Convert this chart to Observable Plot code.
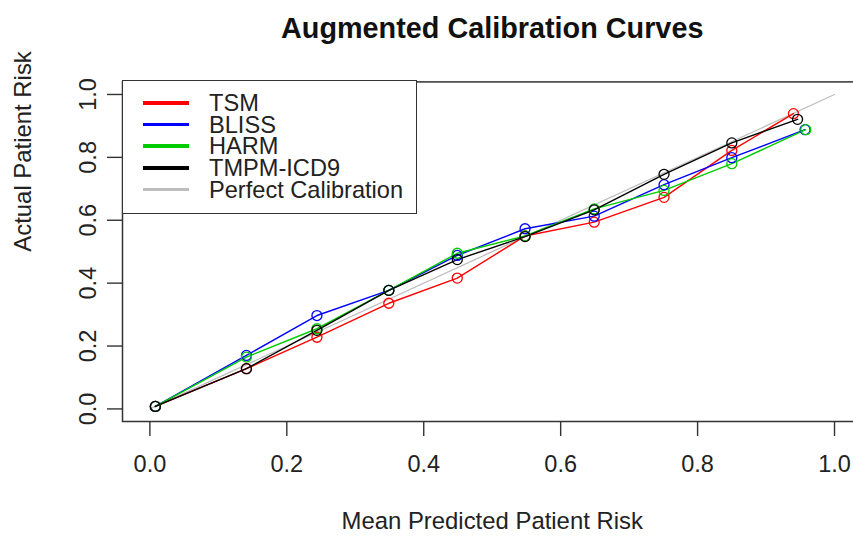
<!DOCTYPE html>
<html><head><meta charset="utf-8">
<script src="https://cdn.jsdelivr.net/npm/d3@7"></script>
<script src="https://cdn.jsdelivr.net/npm/@observablehq/plot@0.6"></script>
<style>
html,body{margin:0;padding:0;background:#fff;overflow:hidden;}
#wrap{position:relative;width:853px;height:539px;overflow:hidden;}
#chart svg{max-width:none !important;display:block;}
#legend{position:absolute;left:122px;top:80px;width:295px;height:134px;box-sizing:border-box;border:1.4px solid #333;background:#fff;font-family:"Liberation Sans",Arial,sans-serif;font-size:23.6px;color:#222;}
.row{position:absolute;left:0;height:20px;width:100%;}
.sw{position:absolute;left:20px;width:46px;height:3.5px;top:8px;}
.lb{position:absolute;left:86px;top:0px;line-height:20px;white-space:nowrap;}
</style>
</head><body>
<div id="wrap"><div id="chart"></div><div id="legend"></div></div>
<script>
// ---- data ----
const models = ["TSM", "BLISS", "HARM", "TMPM-ICD9"];
const modelColors = ["#ff0000", "#0000ff", "#00cc00", "#000000"];
const legendLabels = ["TSM", "BLISS", "HARM", "TMPM-ICD9", "Perfect Calibration"];
const legendColors = ["#ff0000", "#0000ff", "#00cc00", "#000000", "#bebebe"];

const predTSM  = [0.008, 0.141, 0.244, 0.349, 0.449, 0.548, 0.649, 0.751, 0.850, 0.940];
const actTSM   = [0.008, 0.128, 0.228, 0.336, 0.416, 0.550, 0.594, 0.673, 0.822, 0.939];
const predBLISS = [0.008, 0.141, 0.244, 0.349, 0.449, 0.548, 0.649, 0.751, 0.850, 0.957];
const actBLISS  = [0.008, 0.170, 0.297, 0.377, 0.488, 0.573, 0.613, 0.713, 0.799, 0.888];
const predHARM = [0.008, 0.141, 0.244, 0.349, 0.449, 0.548, 0.649, 0.751, 0.850, 0.958];
const actHARM  = [0.008, 0.165, 0.255, 0.377, 0.495, 0.550, 0.636, 0.695, 0.780, 0.888];
const predTMPM = [0.008, 0.141, 0.244, 0.349, 0.449, 0.548, 0.649, 0.751, 0.850, 0.946];
const actTMPM  = [0.008, 0.128, 0.250, 0.377, 0.475, 0.548, 0.633, 0.746, 0.846, 0.921];

const perfectX = [0, 1];
const perfectY = [0, 1];

const xTicks = [0, 0.2, 0.4, 0.6, 0.8, 1.0];
const yTicks = [0, 0.2, 0.4, 0.6, 0.8, 1.0];
const xTickLabels = ["0.0", "0.2", "0.4", "0.6", "0.8", "1.0"];
const yTickLabels = ["0.0", "0.2", "0.4", "0.6", "0.8", "1.0"];

const titleText = "Augmented Calibration Curves";
const xLabelText = "Mean Predicted Patient Risk";
const yLabelText = "Actual Patient Risk";

// ---- build ----
const preds = [predTSM, predBLISS, predHARM, predTMPM];
const acts = [actTSM, actBLISS, actHARM, actTMPM];
const rows = [];
models.forEach((m, i) => preds[i].forEach((p, j) => rows.push({model: m, pred: p, act: acts[i][j]})));
const perfect = perfectX.map((x, i) => ({x, y: perfectY[i]}));

const font = "Liberation Sans, Arial, Helvetica, sans-serif";
const chart = Plot.plot({
  width: 870, height: 539,
  marginLeft: 122, marginRight: 8.6, marginTop: 81.4, marginBottom: 118,
  x: {domain: [-0.04, 1.04]},
  y: {domain: [-0.04, 1.04]},
  color: {domain: models, range: modelColors},
  style: {fontFamily: font, background: "white", color: "#222", overflow: "visible", maxWidth: "none"},
  marks: [
    Plot.axisX(xTicks, {tickSize: 15, tickPadding: 19, tickFormat: (d) => xTickLabels[xTicks.indexOf(d)], fontSize: 23.5, label: null, stroke: "#333", strokeWidth: 1.4}),
    Plot.axisY(yTicks, {tickSize: 15, tickPadding: 12, tickRotate: -90, tickFormat: (d) => yTickLabels[yTicks.indexOf(d)], fontSize: 23.5, label: null, stroke: "#333", strokeWidth: 1.4}),
    Plot.line(perfect, {x: "x", y: "y", stroke: "#bebebe", strokeWidth: 1.3}),
    Plot.line(rows, {x: "pred", y: "act", z: "model", stroke: "model", strokeWidth: 1.4}),
    Plot.dot(rows, {x: "pred", y: "act", stroke: "model", r: 5, strokeWidth: 1.3, fill: "none"}),
    Plot.frame({stroke: "#333", strokeWidth: 1.5}),
    Plot.text([titleText], {frameAnchor: "top", lineAnchor: "middle", dy: -53.5, fontSize: 28.8, fontWeight: "bold", fill: "#111"}),
    Plot.text([xLabelText], {frameAnchor: "bottom", lineAnchor: "middle", dy: 100, fontSize: 23.9, fill: "#222"}),
    Plot.text([yLabelText], {frameAnchor: "left", lineAnchor: "middle", dx: -99, rotate: -90, fontSize: 23.9, fill: "#222"})
  ]
});
chart.style.maxWidth = "none";
document.getElementById("chart").appendChild(chart);

const lg = document.getElementById("legend");
legendLabels.forEach((lab, i) => {
  const r = document.createElement("div");
  r.className = "row";
  r.style.top = (12 + i * 21.7) + "px";
  r.innerHTML = `<div class="sw" style="background:${legendColors[i]}"></div><div class="lb">${lab}</div>`;
  lg.appendChild(r);
});
</script>
</body></html>
